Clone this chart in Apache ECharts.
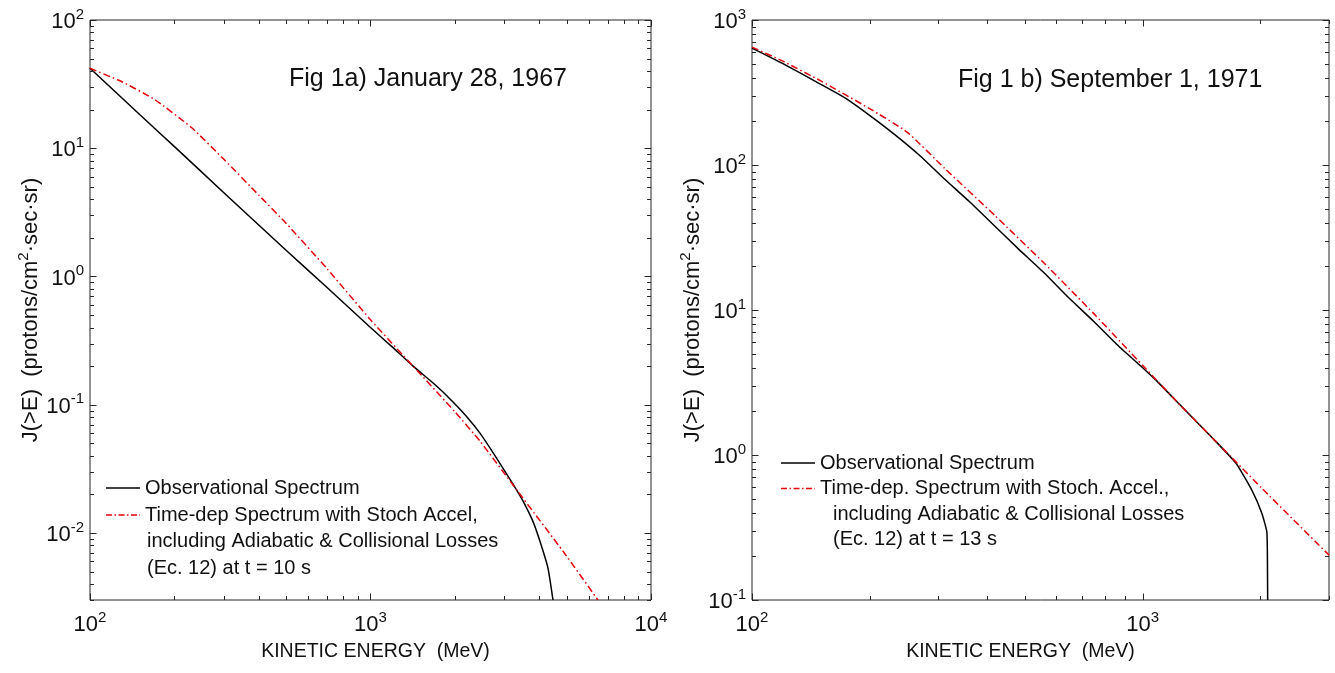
<!DOCTYPE html>
<html><head><meta charset="utf-8">
<script src="https://cdn.jsdelivr.net/npm/echarts@6/dist/echarts.min.js"></script>
<style>html,body{margin:0;padding:0;background:#fff}#c{width:1335px;height:673px}</style>
</head><body><div id="c"></div>
<script>
// ---------- Panel a : January 28, 1967 ----------
const energyObsA = [100, 150, 200, 300, 500, 700, 1000, 1200, 1418, 1700, 1953, 2200, 2456, 2800, 3221, 3498, 3800, 4019, 4294, 4473];
const fluxObsA   = [42, 18.4, 10.3, 4.5, 1.6, 0.82, 0.40, 0.28, 0.20, 0.143, 0.107, 0.081, 0.060, 0.039, 0.024, 0.0177, 0.0122, 0.0086, 0.0053, 0.003];
const energyModA = [100, 130, 170, 230, 300, 400, 500, 700, 1000, 1418, 2000, 2456, 3356, 4857, 6471];
const fluxModA   = [42, 33, 24, 14.5, 8.2, 4.3, 2.6, 1.15, 0.46, 0.2, 0.088, 0.052, 0.021, 0.0072, 0.003];
// ---------- Panel b : September 1, 1971 ----------
const energyObsB = [100, 120, 150, 173, 200, 232, 270, 311, 360, 418, 480, 560, 650, 751, 870, 1000, 1083, 1250, 1505, 1734, 1905, 2019, 2080, 2088, 2090];
const fluxObsB   = [640, 500, 360, 290, 220, 162, 115, 80, 56, 38, 26.5, 18, 12, 8.3, 5.6, 4.0, 3.27, 2.2, 1.32, 0.877, 0.571, 0.397, 0.294, 0.15, 0.1];
const energyModB = [100, 120, 150, 200, 250, 311, 418, 560, 751, 1000, 1083, 1250, 1505, 2019, 3000];
const fluxModB   = [650, 520, 380, 245, 168, 95, 45, 21, 9.4, 4.15, 3.3, 2.2, 1.32, 0.59, 0.204];

// ---------- axis ranges ----------
const xRangeA = [100, 10000];
const yRangeA = [0.003, 100];
const xRangeB = [100, 3000];
const yRangeB = [0.1, 1000];

// ---------- texts ----------
const titleA = 'Fig 1a) January 28, 1967';
const titleB = 'Fig 1 b) September 1, 1971';
const obsName = 'Observational Spectrum';
const modLinesA = ['Time-dep Spectrum with Stoch Accel,', 'including Adiabatic & Collisional Losses', '(Ec. 12) at t = 10 s'];
const modLinesB = ['Time-dep. Spectrum with Stoch. Accel.,', 'including Adiabatic & Collisional Losses', '(Ec. 12) at t = 13 s'];
const xAxisName = 'KINETIC ENERGY  (MeV)';
const yAxisNameParts = ['J(>E)  (protons/cm', '2', '·sec·sr)'];

const FONT = '"Liberation Sans", Arial, Helvetica, sans-serif';
const AX = '#262626';
const TXT = '#111';

function zip(a, b) { return a.map((v, i) => [v, b[i]]); }
function decadeTicks(lo, hi) {
  const out = [];
  for (let e = Math.floor(Math.log10(lo)) ; e <= Math.ceil(Math.log10(hi)); e++) {
    for (let m = 1; m <= 9; m++) {
      const v = m * Math.pow(10, e);
      if (v >= lo * 0.9999 && v <= hi * 1.0001) out.push([v, m === 1 ? 1 : 0]);
    }
  }
  return out;
}
function supLabel(v) {
  const e = Math.log10(v), r = Math.round(e);
  if (Math.abs(e - r) > 1e-6) return '';
  return '{b|10}{s|' + r + '}';
}
const labelRich = {
  b: { fontSize: 22, lineHeight: 26, fontFamily: FONT, color: TXT, verticalAlign: 'bottom' },
  s: { fontSize: 15, lineHeight: 16, fontFamily: FONT, color: TXT, verticalAlign: 'top' }
};
const nameRich = {
  a: { fontSize: 22, lineHeight: 26, fontFamily: FONT, color: TXT, verticalAlign: 'bottom' },
  s: { fontSize: 15, lineHeight: 17, fontFamily: FONT, color: TXT, verticalAlign: 'top' }
};
const yNameText = '{a|' + yAxisNameParts[0] + '}{s|' + yAxisNameParts[1] + '}{a|' + yAxisNameParts[2] + '}';

function xAx(gi, r, pad) {
  return {
    type: 'log', logBase: 10, gridIndex: gi, min: r[0], max: r[1],
    axisLine: { show: false }, axisTick: { show: false }, splitLine: { show: false },
    axisLabel: { formatter: supLabel, margin: 10, rich: labelRich, showMinLabel: true, showMaxLabel: true },
    name: xAxisName, nameLocation: 'middle', nameGap: 42,
    nameTextStyle: { fontSize: 19.5, fontFamily: FONT, color: TXT, padding: pad }
  };
}
function yAx(gi, r) {
  return {
    type: 'log', logBase: 10, gridIndex: gi, min: r[0], max: r[1],
    axisLine: { show: false }, axisTick: { show: false }, splitLine: { show: false },
    axisLabel: { formatter: supLabel, margin: 6, rich: labelRich, showMinLabel: true, showMaxLabel: true },
    name: yNameText, nameLocation: 'middle', nameGap: 44, nameRotate: 90,
    nameTextStyle: { rich: nameRich }
  };
}
function tickSeries(gi, kind, ticks, lo, hi) {
  return {
    type: 'custom', xAxisIndex: gi, yAxisIndex: gi, silent: true, z: 5,
    data: ticks.map(t => kind === 'x' ? [t[0], lo, t[1]] : [lo, t[0], t[1]]),
    renderItem: function (params, api) {
      const L = api.value(2) ? 6.5 : 4;
      const st = { stroke: AX, lineWidth: 1 };
      if (kind === 'x') {
        const v = api.value(0);
        const b = api.coord([v, lo]), t = api.coord([v, hi]);
        const x = Math.round(b[0]) + 0.5;
        return { type: 'group', children: [
          { type: 'line', shape: { x1: x, y1: b[1], x2: x, y2: b[1] - L }, style: st },
          { type: 'line', shape: { x1: x, y1: t[1], x2: x, y2: t[1] + L }, style: st }
        ]};
      } else {
        const v = api.value(1);
        const l = api.coord([lo, v]), r = api.coord([hi, v]);
        const y = Math.round(l[1]) + 0.5;
        return { type: 'group', children: [
          { type: 'line', shape: { x1: l[0], y1: y, x2: l[0] + L, y2: y }, style: st },
          { type: 'line', shape: { x1: r[0], y1: y, x2: r[0] - L, y2: y }, style: st }
        ]};
      }
    }
  };
}
const RED = '#e3000b';
const DASH = [7, 3, 1.5, 3];
const solidIcon = 'path://M0,0H34V1.6H0Z';
const dashIcon = 'path://M0,0h6v1.6h-6zM8.5,0h1.5v1.6h-1.5zM12.5,0h6v1.6h-6zM21,0h1.5v1.6h-1.5zM25,0h6v1.6h-6zM33.4,0h0.6v1.6h-0.6z';

function lineSeries(gi, name, data, color, dash) {
  return {
    type: 'line', name: name, xAxisIndex: gi, yAxisIndex: gi, data: data,
    symbol: 'none', showSymbol: false, smooth: 0.15, clip: true, z: 3,
    lineStyle: { color: color, width: 1.5, type: dash || 'solid', join: 'round' },
    itemStyle: { color: color }
  };
}
function legendCfg(left, top, gap, fs, modName) {
  return {
    left: left, top: top, orient: 'vertical', itemWidth: 34, itemHeight: 1.6, itemGap: gap,
    selectedMode: false, padding: 0,
    textStyle: { fontSize: fs, lineHeight: 20, fontFamily: FONT, color: TXT },
    data: [{ name: obsName, icon: solidIcon }, { name: modName, icon: dashIcon }]
  };
}
function txt(x, y, s, fs) {
  return { type: 'text', x: x, y: y, style: { text: s, fontSize: fs, fontFamily: FONT, fill: TXT, verticalAlign: 'middle', align: 'left' } };
}

const chart = echarts.init(document.getElementById('c'), null, { renderer: 'canvas' });
chart.setOption({
  animation: false,
  backgroundColor: '#fff',
  title: [
    { text: titleA, left: 289, top: 67, padding: 0, textStyle: { fontSize: 25, fontWeight: 'normal', fontFamily: FONT, color: TXT } },
    { text: titleB, left: 958, top: 68, padding: 0, textStyle: { fontSize: 25, fontWeight: 'normal', fontFamily: FONT, color: TXT } }
  ],
  grid: [
    { left: 90, top: 20, width: 561, height: 580, show: true, borderColor: AX, borderWidth: 1, backgroundColor: 'transparent' },
    { left: 752, top: 20, width: 577, height: 580, show: true, borderColor: AX, borderWidth: 1, backgroundColor: 'transparent' }
  ],
  xAxis: [xAx(0, xRangeA, [0, 0, 0, 10]), xAx(1, xRangeB, [0, 40, 0, 0])],
  yAxis: [yAx(0, yRangeA), yAx(1, yRangeB)],
  legend: [legendCfg(106, 478, 7, 20, modLinesA[0]), legendCfg(781, 453, 5.5, 20, modLinesB[0])],
  graphic: [
    txt(147, 541, modLinesA[1], 20), txt(147, 568, modLinesA[2], 20),
    txt(833, 514, modLinesB[1], 20), txt(833, 539.5, modLinesB[2], 20)
  ],
  series: [
    lineSeries(0, obsName, zip(energyObsA, fluxObsA), '#000'),
    lineSeries(0, modLinesA[0], zip(energyModA, fluxModA), RED, DASH),
    lineSeries(1, obsName, zip(energyObsB, fluxObsB), '#000'),
    lineSeries(1, modLinesB[0], zip(energyModB, fluxModB), RED, DASH),
    tickSeries(0, 'x', decadeTicks(xRangeA[0], xRangeA[1]), yRangeA[0], yRangeA[1]),
    tickSeries(0, 'y', decadeTicks(yRangeA[0], yRangeA[1]), xRangeA[0], xRangeA[1]),
    tickSeries(1, 'x', decadeTicks(xRangeB[0], xRangeB[1]), yRangeB[0], yRangeB[1]),
    tickSeries(1, 'y', decadeTicks(yRangeB[0], yRangeB[1]), xRangeB[0], xRangeB[1])
  ]
});
</script>
</body></html>
